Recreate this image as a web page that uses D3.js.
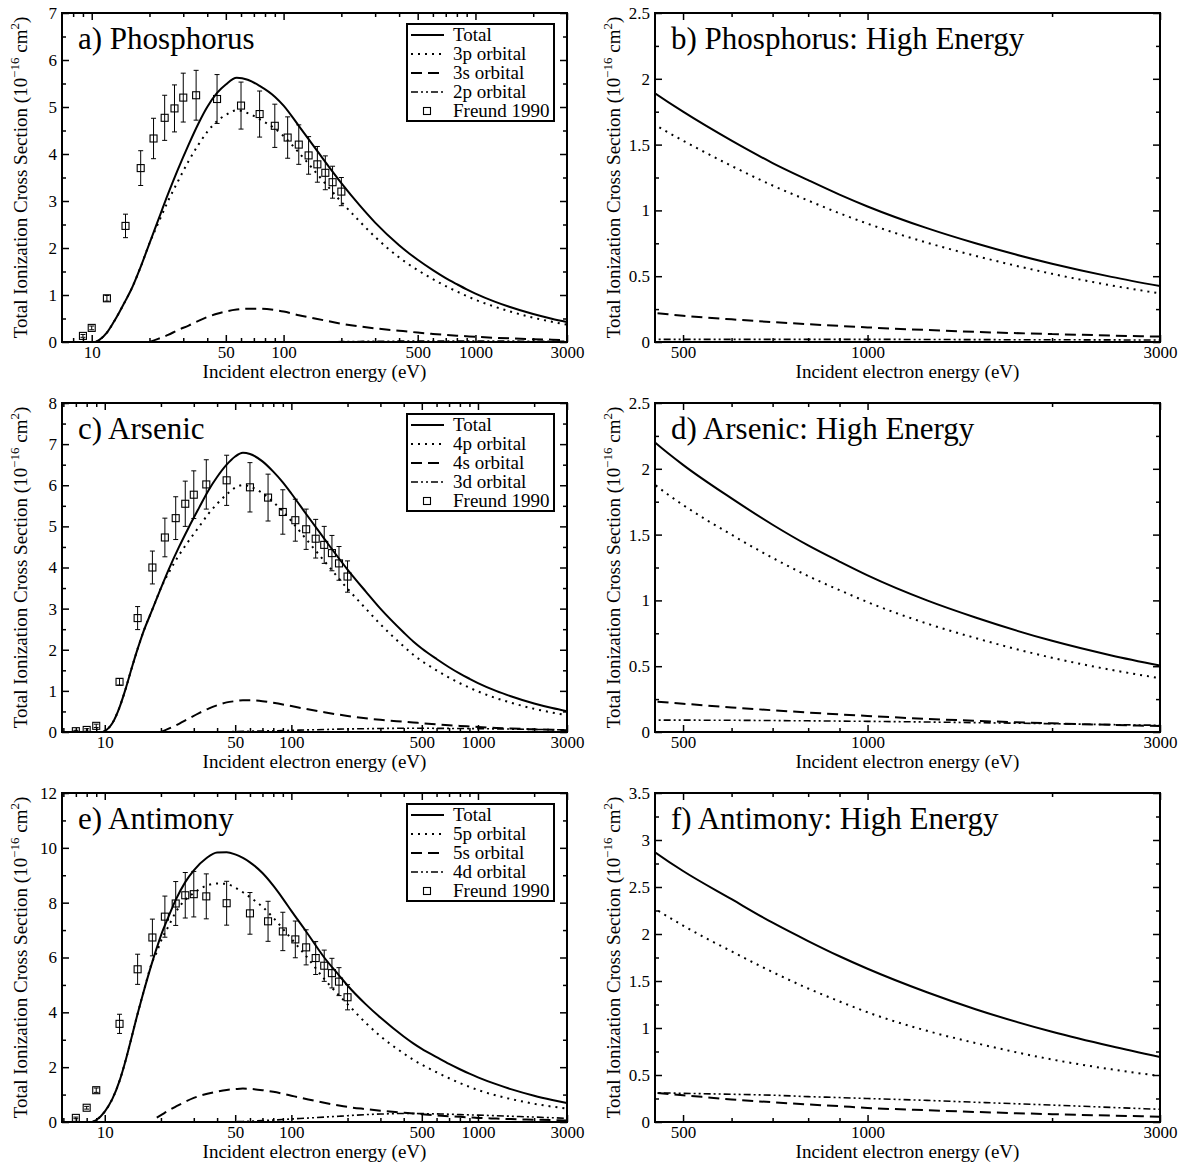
<!DOCTYPE html>
<html><head><meta charset="utf-8">
<script src="https://cdn.jsdelivr.net/npm/d3@7"></script>
<style>
body{margin:0;background:#fff}
svg{display:block;background:#fff}
text{font-family:"Liberation Serif","Times New Roman",Times,serif;fill:#000}
</style>
</head><body>
<svg id="chart" width="1178" height="1165"></svg>
<script>
// ---------------- DATA ----------------
// Phosphorus
const pE     = [10.5,11,12,13,14,15,16,18,20,22,25,28,32,36,40,45,50,57,65,75,90,100,120,150,200,250,300,400,450,500,600,700,800,900,1000,1250,1500,2000,2500,3000];
const pTotal = [0,0.05,0.2,0.42,0.65,0.88,1.1,1.6,2.1,2.55,3.15,3.65,4.2,4.65,5.0,5.3,5.48,5.62,5.58,5.45,5.22,5.03,4.6,4.06,3.38,2.9,2.54,2.06,1.89,1.75,1.53,1.36,1.23,1.12,1.03,0.865,0.75,0.595,0.495,0.425];
const p3p    = [0,0.05,0.2,0.42,0.65,0.88,1.1,1.6,2.1,2.49,3.0,3.4,3.85,4.2,4.47,4.7,4.83,4.93,4.87,4.74,4.54,4.38,4.03,3.57,2.98,2.56,2.235,1.8,1.65,1.53,1.338,1.189,1.075,0.978,0.899,0.755,0.655,0.518,0.43,0.369];
const p3s    = [null,null,null,null,null,null,null,null,0,0.06,0.15,0.25,0.35,0.45,0.53,0.6,0.65,0.69,0.71,0.71,0.68,0.65,0.57,0.49,0.39,0.33,0.29,0.24,0.22,0.2,0.172,0.151,0.135,0.122,0.111,0.091,0.077,0.06,0.049,0.041];
const p2p    = [null,null,null,null,null,null,null,null,null,null,null,null,null,null,null,null,null,null,null,null,null,null,null,0,0.008,0.012,0.015,0.018,0.02,0.02,0.02,0.02,0.02,0.02,0.02,0.019,0.018,0.017,0.016,0.015];
const pExpE  = [9,10,12,15,18,21,24,27,30,35,45,60,75,90,105,120,135,150,165,180,200];
const pExp   = [0.13,0.3,0.93,2.47,3.7,4.33,4.77,4.97,5.2,5.25,5.17,5.03,4.85,4.6,4.35,4.2,3.97,3.78,3.6,3.4,3.2];
const pErr   = [0.03,0.04,0.06,0.25,0.37,0.43,0.48,0.5,0.52,0.53,0.52,0.5,0.49,0.46,0.44,0.42,0.4,0.38,0.36,0.34,0.3];

// Arsenic
const aE     = [9.8,10.5,11,12,13,14,15,16,18,20,22,25,28,32,36,40,45,50,55,60,70,80,90,100,120,150,200,250,300,400,450,500,600,700,800,900,1000,1250,1500,2000,2500,3000];
const aTotal = [0,0.1,0.22,0.6,1.08,1.58,2.02,2.4,2.98,3.5,3.95,4.5,4.95,5.45,5.88,6.2,6.5,6.7,6.79,6.76,6.58,6.33,6.07,5.8,5.3,4.7,3.95,3.42,3.0,2.42,2.2,2.03,1.775,1.575,1.418,1.295,1.19,1.0,0.87,0.693,0.582,0.505];
const a4p    = [0,0.1,0.22,0.6,1.08,1.58,2.02,2.4,2.98,3.5,3.87,4.3,4.63,4.99,5.31,5.55,5.775,5.94,6.005,5.97,5.805,5.59,5.365,5.13,4.69,4.16,3.485,3.005,2.62,2.08,1.878,1.725,1.499,1.323,1.185,1.078,0.987,0.824,0.714,0.564,0.472,0.409];
const a4s    = [null,null,null,null,null,null,null,null,null,0,0.08,0.2,0.32,0.46,0.57,0.65,0.72,0.75,0.77,0.77,0.75,0.71,0.67,0.63,0.56,0.48,0.39,0.335,0.295,0.25,0.232,0.215,0.187,0.165,0.148,0.134,0.122,0.1,0.085,0.066,0.054,0.045];
const a3d    = [null,null,null,null,null,null,null,null,null,null,null,null,null,null,null,0,0.005,0.01,0.015,0.02,0.025,0.03,0.035,0.04,0.05,0.06,0.075,0.08,0.085,0.09,0.09,0.09,0.089,0.087,0.085,0.083,0.081,0.076,0.071,0.063,0.056,0.051];
const aExpE  = [7,8,9,12,15,18,21,24,27,30,35,45,60,75,90,105,120,135,150,165,180,200];
const aExp   = [0.02,0.05,0.15,1.22,2.77,4.0,4.73,5.2,5.55,5.77,6.02,6.12,5.95,5.7,5.35,5.15,4.93,4.7,4.55,4.35,4.1,3.78];
const aErr   = [0.02,0.03,0.04,0.08,0.28,0.4,0.47,0.52,0.55,0.58,0.6,0.61,0.6,0.57,0.54,0.51,0.49,0.47,0.45,0.43,0.41,0.38];

// Antimony
const sE     = [8.6,9,10,11,12,13,14,15,16,18,19,20,22,24,27,30,35,40,45,50,55,60,70,80,90,100,120,150,180,200,250,300,400,450,500,600,700,800,900,1000,1250,1500,2000,2500,3000];
const sTotal = [0,0.07,0.38,0.85,1.5,2.3,3.15,3.95,4.65,5.85,6.35,6.8,7.5,8.1,8.75,9.18,9.62,9.83,9.84,9.76,9.63,9.47,9.08,8.62,8.15,7.7,6.95,6.0,5.35,4.98,4.3,3.81,3.12,2.87,2.67,2.37,2.12,1.925,1.763,1.63,1.38,1.2,0.96,0.805,0.69];
const s5p    = [0,0.07,0.38,0.85,1.5,2.3,3.15,3.95,4.65,5.85,6.2,6.6,7.15,7.65,8.1,8.35,8.62,8.7,8.68,8.55,8.38,8.2,7.85,7.45,7.05,6.68,6.05,5.22,4.62,4.3,3.62,3.13,2.5,2.27,2.09,1.815,1.595,1.42,1.283,1.167,0.97,0.84,0.665,0.56,0.49];
const s5s    = [null,null,null,null,null,null,null,null,null,null,0.16,0.25,0.42,0.56,0.74,0.88,1.02,1.11,1.17,1.2,1.22,1.21,1.16,1.1,1.03,0.96,0.84,0.7,0.6,0.55,0.47,0.41,0.34,0.31,0.285,0.24,0.21,0.187,0.168,0.15,0.125,0.107,0.083,0.068,0.057];
const s4d    = [null,null,null,null,null,null,null,null,null,null,null,null,null,null,null,null,null,0,0.005,0.01,0.02,0.03,0.05,0.07,0.09,0.11,0.14,0.18,0.21,0.23,0.27,0.29,0.31,0.31,0.305,0.295,0.285,0.27,0.26,0.25,0.23,0.21,0.18,0.155,0.135];
const sExpE  = [7,8,9,12,15,18,21,24,27,30,35,45,60,75,90,105,120,135,150,165,180,200];
const sExp   = [0.15,0.52,1.16,3.58,5.57,6.73,7.49,7.97,8.27,8.31,8.23,7.98,7.61,7.32,6.95,6.66,6.37,5.98,5.7,5.43,5.12,4.55];
const sErr   = [0.03,0.05,0.08,0.35,0.55,0.67,0.75,0.8,0.83,0.83,0.82,0.8,0.76,0.73,0.7,0.67,0.64,0.6,0.57,0.54,0.51,0.46];

// Ticks & labels
const lowXTicks   = [10,50,100,500,1000,3000];
const lowXMinor   = [6,7,8,9,20,30,40,60,70,80,90,200,300,400,600,700,800,900,2000];
const highXTicks  = [500,1000,3000];
const highXMinor  = [600,700,800,900,2000];
const pYTicks = [0,1,2,3,4,5,6,7];          const pYMinor = [0.5,1.5,2.5,3.5,4.5,5.5,6.5];
const aYTicks = [0,1,2,3,4,5,6,7,8];        const aYMinor = [0.5,1.5,2.5,3.5,4.5,5.5,6.5,7.5];
const sYTicks = [0,2,4,6,8,10,12];          const sYMinor = [1,3,5,7,9,11];
const hpYTicks = [0,0.5,1,1.5,2,2.5];       const hpYMinor = [0.25,0.75,1.25,1.75,2.25];
const haYTicks = [0,0.5,1,1.5,2,2.5];       const haYMinor = [0.25,0.75,1.25,1.75,2.25];
const hsYTicks = [0,0.5,1,1.5,2,2.5,3,3.5]; const hsYMinor = [0.25,0.75,1.25,1.75,2.25,2.75,3.25];

const titles = ["a) Phosphorus","b) Phosphorus: High Energy","c) Arsenic","d) Arsenic: High Energy","e) Antimony","f) Antimony: High Energy"];
const pLegend = ["Total","3p orbital","3s orbital","2p orbital","Freund 1990"];
const aLegend = ["Total","4p orbital","4s orbital","3d orbital","Freund 1990"];
const sLegend = ["Total","5p orbital","5s orbital","4d orbital","Freund 1990"];
const xTitle = "Incident electron energy (eV)";

// ---------------- LAYOUT ----------------
const svg = d3.select("#chart");
const COLS = [62, 655], ROWS = [13, 403, 793], PW = 505, PH = 329;
const STY = [
  {w:2,   dash:null},
  {w:2,   dash:"2,5"},
  {w:2,   dash:"11,6"},
  {w:1.6, dash:"7,3,2,3,2,3"}
];

const elements = [
  {E:pE, series:[pTotal,p3p,p3s,p2p], expE:pExpE, exp:pExp, err:pErr, legend:pLegend,
   low:{xd:[7,3000], yd:[0,7], yt:pYTicks, ym:pYMinor}, high:{yd:[0,2.5], yt:hpYTicks, ym:hpYMinor}},
  {E:aE, series:[aTotal,a4p,a4s,a3d], expE:aExpE, exp:aExp, err:aErr, legend:aLegend,
   low:{xd:[5.9,3000], yd:[0,8], yt:aYTicks, ym:aYMinor}, high:{yd:[0,2.5], yt:haYTicks, ym:haYMinor}},
  {E:sE, series:[sTotal,s5p,s5s,s4d], expE:sExpE, exp:sExp, err:sErr, legend:sLegend,
   low:{xd:[5.9,3000], yd:[0,12], yt:sYTicks, ym:sYMinor}, high:{yd:[0,3.5], yt:hsYTicks, ym:hsYMinor}}
];

const fmt = d => String(d);

function axis(g, gen, tr, vals, size, labels, pad){
  const a = g.append("g").attr("transform", tr)
    .call(gen.tickValues(vals).tickSize(-size).tickSizeOuter(0).tickPadding(pad||0)
      .tickFormat(labels ? fmt : () => ""));
  a.select(".domain").remove();
  a.attr("font-family", null).attr("font-size", null);
  a.selectAll("line").attr("stroke", "#000").attr("stroke-width", 1.5);
  a.selectAll("text").attr("font-size", 17);
  return a;
}

function drawPanel(el, row, col, idx){
  const isHigh = col === 1;
  const cfg = isHigh ? el.high : el.low;
  const xd = isHigh ? [450,3000] : cfg.xd;
  const g = svg.append("g").attr("transform", `translate(${COLS[col]},${ROWS[row]})`);
  const x = d3.scaleLog().domain(xd).range([0, PW]);
  const y = d3.scaleLinear().domain(cfg.yd).range([PH, 0]);
  const xt = isHigh ? highXTicks : lowXTicks;
  const xm = (isHigh ? highXMinor : lowXMinor).filter(v => v > xd[0] && v < xd[1]);

  // ticks on all four sides, pointing inward
  axis(g, d3.axisBottom(x), `translate(0,${PH})`, xt, 7, true, 4);
  axis(g, d3.axisBottom(x), `translate(0,${PH})`, xm, 4, false);
  axis(g, d3.axisTop(x), `translate(0,0)`, xt, 7, false);
  axis(g, d3.axisTop(x), `translate(0,0)`, xm, 4, false);
  axis(g, d3.axisLeft(y), `translate(0,0)`, cfg.yt, 7, true, 5);
  axis(g, d3.axisLeft(y), `translate(0,0)`, cfg.ym, 4, false);
  axis(g, d3.axisRight(y), `translate(${PW},0)`, cfg.yt, 7, false);
  axis(g, d3.axisRight(y), `translate(${PW},0)`, cfg.ym, 4, false);

  // frame
  g.append("rect").attr("width", PW).attr("height", PH)
    .attr("fill", "none").attr("stroke", "#000").attr("stroke-width", 2);

  // clip
  const cid = "clip" + idx;
  g.append("clipPath").attr("id", cid).append("rect").attr("width", PW).attr("height", PH);
  const plot = g.append("g").attr("clip-path", `url(#${cid})`);

  const line = d3.line()
    .defined(d => d[1] != null)
    .x(d => x(d[0])).y(d => y(d[1]))
    .curve(d3.curveMonotoneX);

  el.series.forEach((vals, i) => {
    let pts = el.E.map((e, j) => [e, vals[j]]);
    if (isHigh) pts = pts.filter(d => d[0] >= 400);
    plot.append("path").attr("d", line(pts))
      .attr("fill", "none").attr("stroke", "#000")
      .attr("stroke-width", STY[i].w)
      .attr("stroke-dasharray", STY[i].dash);
  });

  if (!isHigh) {
    const pts = el.expE.map((e, j) => ({e, v: el.exp[j], s: el.err[j]}));
    const eg = plot.append("g").attr("stroke", "#000").attr("fill", "none");
    pts.forEach(p => {
      const cx = x(p.e), y1 = y(p.v + p.s), y0 = y(p.v - p.s);
      eg.append("line").attr("x1", cx).attr("x2", cx).attr("y1", y1).attr("y2", y0).attr("stroke-width", 1);
      eg.append("line").attr("x1", cx - 2.5).attr("x2", cx + 2.5).attr("y1", y1).attr("y2", y1).attr("stroke-width", 1);
      eg.append("line").attr("x1", cx - 2.5).attr("x2", cx + 2.5).attr("y1", y0).attr("y2", y0).attr("stroke-width", 1);
      eg.append("rect").attr("x", cx - 3.5).attr("y", y(p.v) - 3.5).attr("width", 7).attr("height", 7).attr("stroke-width", 1.1);
    });

    // legend
    const lg = g.append("g").attr("transform", "translate(345,11)");
    lg.append("rect").attr("width", 147).attr("height", 97)
      .attr("fill", "#fff").attr("stroke", "#000").attr("stroke-width", 2);
    el.legend.forEach((lab, i) => {
      const cy = 11 + i * 19;
      if (i < 4) {
        lg.append("line").attr("x1", 4).attr("x2", 37).attr("y1", cy).attr("y2", cy)
          .attr("stroke", "#000").attr("stroke-width", STY[i].w)
          .attr("stroke-dasharray", STY[i].dash);
      } else {
        lg.append("rect").attr("x", 16.5).attr("y", cy - 3.5).attr("width", 7).attr("height", 7)
          .attr("fill", "none").attr("stroke", "#000").attr("stroke-width", 1.1);
      }
      lg.append("text").attr("x", 46).attr("y", cy + 6).attr("font-size", 19).text(lab);
    });
  }

  // panel title
  g.append("text").attr("x", 16).attr("y", 36).attr("font-size", 31).text(titles[idx]);

  // x title
  g.append("text").attr("x", PW / 2).attr("y", PH + 36).attr("text-anchor", "middle")
    .attr("font-size", 19).text(xTitle);

  // y title
  const yt = g.append("text").attr("transform", `translate(-35,${PH / 2}) rotate(-90)`)
    .attr("text-anchor", "middle").attr("font-size", 19);
  yt.append("tspan").text("Total Ionization Cross Section (10");
  yt.append("tspan").attr("dy", -8).attr("font-size", 13).text("\u221216");
  yt.append("tspan").attr("dy", 8).text(" cm");
  yt.append("tspan").attr("dy", -8).attr("font-size", 13).text("2");
  yt.append("tspan").attr("dy", 8).text(")");
}

elements.forEach((el, r) => {
  drawPanel(el, r, 0, r * 2);
  drawPanel(el, r, 1, r * 2 + 1);
});
</script>
</body></html>
